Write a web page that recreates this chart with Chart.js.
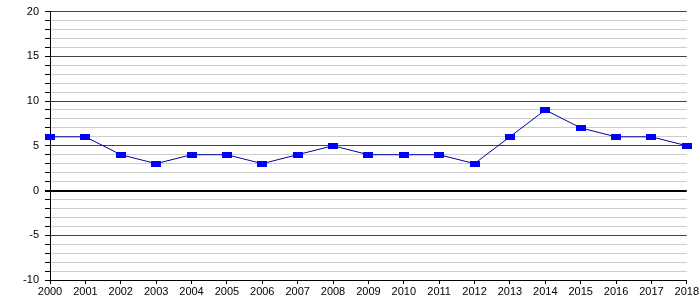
<!DOCTYPE html>
<html>
<head>
<meta charset="utf-8">
<script src="https://cdn.jsdelivr.net/npm/chart.js@4/dist/chart.umd.min.js"></script>
<style>
  html, body { margin: 0; padding: 0; background: #fff; }
  #wrap { width: 700px; height: 300px; position: relative; }
</style>
</head>
<body>
<div id="wrap"><canvas id="chart"></canvas></div>
<script>
// años y valores
const years = ['2000', '2001', '2002', '2003', '2004', '2005', '2006', '2007', '2008', '2009',
               '2010', '2011', '2012', '2013', '2014', '2015', '2016', '2017', '2018'];
const values = [6, 6, 4, 3, 4, 4, 3, 4, 5, 4, 4, 4, 3, 6, 9, 7, 6, 6, 5];
const yMin = -10;
const yMax = 20;

// marcador rectangular 10x6
const marker = document.createElement('canvas');
marker.width = 10;
marker.height = 6;
const mctx = marker.getContext('2d');
mctx.fillStyle = '#0000ff';
mctx.fillRect(0, 0, 10, 6);

const ctx = document.getElementById('chart').getContext('2d');
const chart = new Chart(ctx, {
    type: 'line',
    data: {
        labels: years,
        datasets: [{
            data: values,
            borderColor: '#0000a0',
            borderWidth: 1,
            tension: 0,
            pointStyle: marker,
            pointRadius: 5,
            pointHoverRadius: 5
        }]
    },
    options: {
        responsive: true,
        maintainAspectRatio: false,
        animation: false,
        events: [],
        layout: { padding: { top: 4, right: 10, left: 0, bottom: 0 } },
        plugins: { legend: { display: false }, tooltip: { enabled: false } },
        scales: {
            x: {
                offset: false,
                grid: {
                    drawOnChartArea: false,
                    drawTicks: true,
                    tickLength: 4,
                    tickColor: '#000'
                },
                border: { color: '#000' },
                ticks: {
                    color: '#000',
                    font: { family: 'Liberation Sans, Arial, sans-serif', size: 11 },
                    maxRotation: 0,
                    autoSkip: false,
                    padding: 1
                },
                afterFit: (s) => { s.height = 20; }
            },
            y: {
                min: yMin,
                max: yMax,
                ticks: {
                    stepSize: 1,
                    maxTicksLimit: 50,
                    autoSkip: false,
                    color: '#000',
                    font: { family: 'Liberation Sans, Arial, sans-serif', size: 11, lineHeight: 1 },
                    padding: 6,
                    callback: (v) => (v % 5 === 0 ? v : '')
                },
                grid: {
                    color: (c) => {
                        const v = c.tick.value;
                        if (v === 0) return '#000';
                        if (v % 5 === 0) return '#444';
                        return '#cccccc';
                    },
                    lineWidth: (c) => (c.tick.value === 0 ? 2 : 1),
                    tickColor: '#000',
                    tickLength: 5
                },
                border: { color: '#000' },
                afterFit: (s) => { s.width = 50; }
            }
        }
    }
});
</script>
</body>
</html>
